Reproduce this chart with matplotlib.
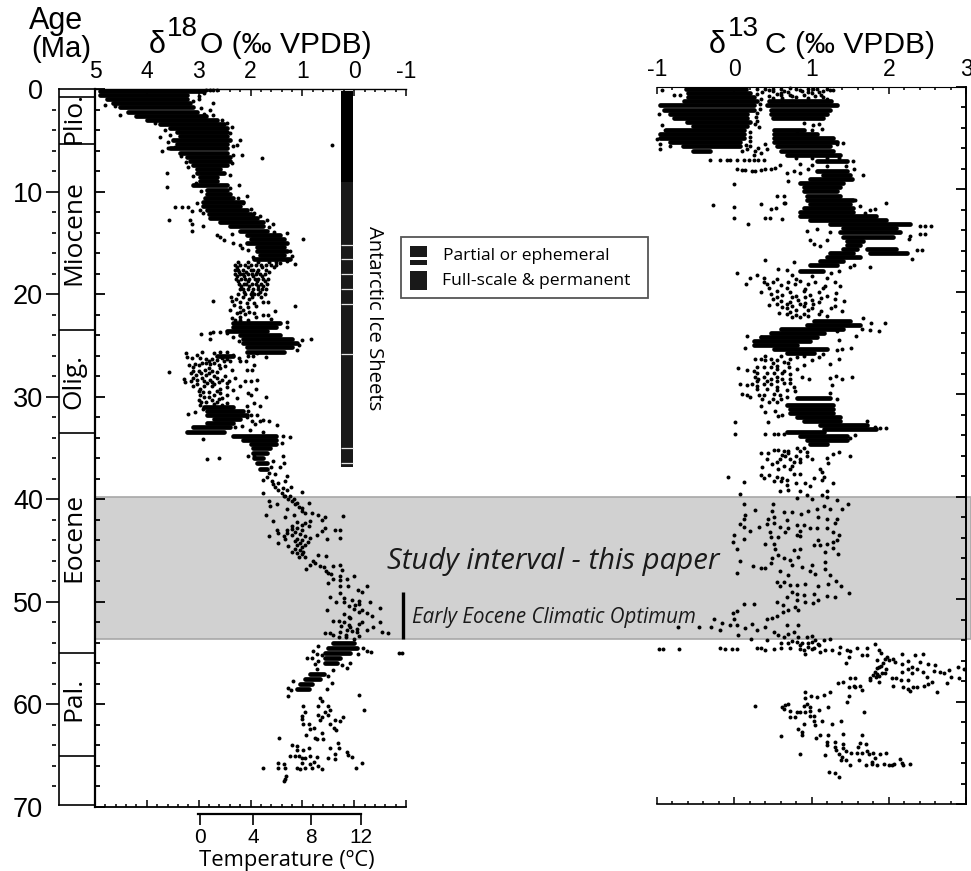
import matplotlib
matplotlib.use("Agg")
import matplotlib.pyplot as plt
from matplotlib.patches import Rectangle

W, H = 971, 871
SANS = "Liberation Sans"
SOFT = "Open Sans"

# age ticks and stage column
age_major = [0, 10, 20, 30, 40, 50, 60, 70]
age_minor = [2, 4, 6, 8, 12, 14, 16, 18, 22, 24, 26, 28, 32, 34, 36, 38, 42, 44, 46, 48, 52, 54, 56, 58, 62, 64, 66, 68]
stage_lines = [0.75, 5.4, 23.5, 33.5, 55, 65]
stage_names = ["Plio.", "Miocene", "Olig.", "Eocene", "Pal."]
stage_mids = [2.8, 14.0, 28.5, 43.7, 59.5]

# ice sheet bar
ice_black = [0.2, 9.1]
ice_grey = [9.1, 36.85]
ice_gaps = [15.2, 16.6, 18.0, 19.5, 21.0, 25.8, 35.0, 36.5]

study_band = [39.8, 53.6]
eeco_ages = [49.0, 53.6]

temp_labels = ["0", "4", "8", "12"]
temp_pos = [2.97, 1.95, 0.83, -0.135]

# solid parts of the d18O cloud: age, high value, low value
o_core_age = [0.2, 0.6, 1.0, 1.4, 1.8, 2.2, 2.6, 3.0, 3.4, 3.8, 4.2, 4.6, 5.0, 5.4, 5.8, 6.2, 6.6, 7.0, 7.4, 7.8, 8.2, 8.6, 9.0, 9.4, 9.8, 10.2, 10.6, 11.0, 11.4, 11.8, 12.2, 12.6, 13.0, 13.4, 13.8, 14.2, 14.6, 15.0, 15.4, 15.8, 16.2, 16.6,
              22.8, 23.2, 23.6, 24.0, 24.4, 24.8, 25.2, 25.6, 26.0,
              31.0, 31.4, 31.8, 32.2, 32.6, 33.0, 33.4, 33.8, 34.2, 34.6, 35.0, 35.5, 36.0, 36.5, 37.0,
              54.0, 54.5, 55.0, 55.5, 56.0, 57.0, 57.5, 58.0, 58.5]
o_core_hi = [4.9, 4.9, 4.77, 4.65, 4.52, 4.36, 4.2, 4.0, 3.75, 3.55, 3.42, 3.36, 3.49, 3.42, 3.55, 3.36, 3.23, 3.17, 3.1, 3.04, 3.04, 2.97, 2.97, 3.1, 2.84, 2.84, 2.88, 2.91, 2.91, 2.84, 2.81, 2.78, 2.59, 2.39, 2.2, 2.07, 2.0, 2.07, 1.88, 1.88, 1.81, 1.94,
             2.33, 2.33, 2.46, 2.2, 2.14, 2.14, 2.07, 2.07, 2.65,
             2.9, 2.84, 2.84, 2.71, 2.84, 3.1, 3.23, 2.33, 2.14, 2.0, 1.95, 1.95, 1.94, 1.88, 1.81,
             0.4, 0.5, 0.56, 0.56, 0.56, 0.85, 0.95, 1.04, 1.1]
o_core_lo = [2.9, 3.23, 3.23, 3.17, 3.1, 3.04, 2.85, 2.65, 2.52, 2.46, 2.46, 2.46, 2.4, 2.46, 2.46, 2.46, 2.4, 2.4, 2.46, 2.59, 2.52, 2.65, 2.65, 2.46, 2.46, 2.4, 2.33, 2.14, 2.2, 2.07, 2.0, 1.88, 1.75, 1.75, 1.69, 1.43, 1.36, 1.3, 1.36, 1.3, 1.36, 1.24,
             1.43, 1.5, 1.69, 1.43, 1.2, 1.1, 1.2, 1.36, 2.33,
             2.33, 2.14, 2.07, 2.2, 2.33, 2.4, 2.52, 1.5, 1.5, 1.5, 1.62, 1.69, 1.75, 1.69, 1.69,
             0.01, -0.05, 0.08, 0.27, 0.33, 0.59, 0.66, 0.82, 0.88]

# scattered d18O samples: (age, value)
o_points = [(0.1, 2.85), (0.1, 2.78), (0.1, 2.72), (0.1, 2.65), (0.4, 2.9), (0.7, 3.0), (1.0, 3.0), (1.4, 2.72), (2.0, 2.78), (2.5, 2.72), (1.56, 4.81), (1.7, 4.61), (2.5, 4.52), (3.34, 3.84), (4.7, 3.75), (6.0, 3.71), (5.8, 3.6), (8.2, 3.62), (9.6, 3.62), (11.5, 3.46), (11.5, 3.33), (11.5, 3.2), (11.9, 3.13), (12.8, 3.58), (12.8, 3.17), (13.2, 3.13), (13.8, 3.13), (11.1, 3.04), (11.8, 2.97), (12.1, 2.91), (13.4, 2.91), (14.2, 2.65), (14.4, 2.59), (14.7, 2.52), (15.0, 2.33), (15.5, 2.17),
            (4.3, 2.39), (5.0, 2.2), (5.5, 2.27), (5.6, 2.33), (6.4, 2.17), (6.4, 2.33), (6.75, 1.78), (5.45, 0.42), (7.2, 2.36), (8.4, 2.39), (9.35, 2.23), (10.4, 2.07), (11.1, 2.14), (12.1, 1.94), (12.4, 1.81), (12.8, 1.69), (13.2, 1.56), (14.0, 1.3), (14.6, 0.98), (15.8, 1.24), (17.1, 1.14), (16.3, 1.2), (16.8, 1.3), (17.0, 1.43),
            (17.2, 2.3), (17.2, 2.2), (17.2, 2.1), (17.2, 2.0), (17.2, 1.9), (17.2, 1.8), (17.2, 1.7), (17.2, 1.6), (17.2, 1.5), (17.6, 2.3), (17.6, 2.25), (17.6, 2.15), (17.6, 2.0), (17.6, 1.95), (17.6, 1.85), (17.6, 1.7),
            (18.0, 2.3), (18.0, 2.2), (18.0, 2.15), (18.0, 2.05), (18.0, 1.98), (18.0, 1.9), (18.0, 1.82), (18.0, 1.72), (18.5, 2.28), (18.5, 2.18), (18.5, 2.1), (18.5, 2.02), (18.5, 1.92), (18.5, 1.85), (18.5, 1.75), (18.5, 1.66),
            (19.0, 2.22), (19.0, 2.12), (19.0, 2.08), (19.0, 1.98), (19.0, 1.9), (19.0, 1.8), (19.0, 1.68), (19.5, 2.2), (19.5, 2.15), (19.5, 2.05), (19.5, 1.95), (19.5, 1.85), (19.5, 1.78), (19.5, 1.7), (20.0, 2.25), (20.0, 2.1), (20.0, 2.0), (20.0, 1.93), (20.0, 1.86), (20.0, 1.72),
            (20.7, 2.72), (20.7, 2.36), (20.8, 2.2), (20.9, 2.07), (20.9, 1.94), (20.8, 1.75), (20.8, 1.67), (21.2, 1.14), (21.5, 2.39), (21.85, 2.27), (21.5, 2.14), (21.85, 1.94), (22.0, 1.75), (21.6, 1.53), (22.0, 1.67), (22.3, 2.36), (22.5, 2.2), (22.5, 2.04), (22.75, 1.3), (23.2, 1.3), (21.3, 2.2), (21.3, 2.05), (21.2, 1.9), (21.9, 2.1),
            (23.9, 2.96), (23.8, 2.79), (24.4, 2.79), (23.65, 2.72), (23.65, 2.59), (23.8, 2.46), (24.2, 2.33), (24.6, 2.23), (24.45, 1.01), (24.4, 0.83), (25.0, 1.07), (25.4, 1.1), (26.1, 1.7), (25.75, 1.88), (26.0, 2.05), (26.0, 1.95),
            (25.75, 3.25), (26.1, 3.23), (25.6, 2.94), (25.9, 3.04), (26.2, 3.13), (26.2, 2.97), (25.7, 2.71), (25.6, 2.59), (25.65, 2.46), (25.9, 2.33), (26.2, 2.23), (26.55, 2.2), (26.55, 2.08), (27.4, 2.07), (26.9, 1.94), (27.4, 1.97),
            (26.9, 3.18), (26.8, 3.07), (26.7, 2.94), (26.55, 2.81), (26.4, 2.65), (26.55, 2.52), (26.55, 2.39), (27.6, 3.58), (28.25, 3.28), (28.6, 3.26), (27.5, 3.1), (27.5, 3.0), (27.4, 2.88), (27.5, 2.75), (27.2, 2.59), (27.0, 2.49), (27.4, 2.36), (26.9, 3.0), (26.7, 2.7),
            (28.2, 3.1), (28.35, 3.04), (28.2, 2.94), (27.7, 2.81), (28.35, 2.78), (28.2, 2.65), (28.35, 2.55), (28.5, 2.42), (28.2, 2.29), (28.5, 2.1), (28.5, 1.99), (28.4, 1.88),
            (28.8, 3.04), (29.2, 2.97), (28.7, 2.84), (28.8, 2.71), (29.2, 2.59), (28.7, 2.46), (29.3, 2.33), (29.0, 2.2), (29.6, 2.04), (29.2, 1.89), (29.8, 1.99), (30.1, 2.26), (30.0, 1.7), (30.6, 1.94), (30.95, 1.81), (30.95, 2.07),
            (29.8, 2.97), (29.5, 2.91), (29.5, 2.81), (29.8, 2.71), (29.65, 2.59), (29.8, 2.46), (30.3, 3.0), (30.8, 2.97), (30.5, 2.85), (30.3, 2.75), (30.2, 2.6),
            (31.65, 3.2), (31.5, 3.07), (31.2, 2.91), (31.4, 2.04), (31.75, 1.99), (31.95, 2.07), (31.75, 1.88), (32.25, 1.75), (32.7, 1.91), (32.4, 1.81), (32.4, 1.65), (32.8, 1.49), (32.4, 1.97), (32.9, 2.17), (33.2, 2.01), (33.4, 1.75), (33.0, 2.3),
            (34.1, 2.92), (36.1, 2.83), (36.0, 2.61), (33.95, 1.24), (33.8, 1.37), (34.5, 1.4), (35.8, 2.04), (35.8, 1.94), (35.8, 1.38), (36.3, 1.56), (36.5, 1.36), (36.9, 1.43), (37.5, 1.53), (37.7, 1.3), (38.25, 1.33), (38.8, 1.22), (36.9, 1.6), (37.4, 1.65),
            (37.8, 1.68), (38.2, 1.59), (38.1, 1.75), (38.5, 1.56), (38.4, 1.47), (38.8, 1.52), (39.1, 1.46), (39.1, 1.3), (39.4, 1.39), (39.7, 1.33), (40.0, 1.27), (40.2, 1.2), (40.5, 1.14), (40.8, 1.07), (41.1, 1.01), (38.9, 1.38),
            (39.4, 1.75), (39.3, 1.01), (40.2, 1.65), (40.7, 1.62), (40.5, 1.49), (41.5, 1.7), (42.1, 1.56), (42.95, 1.49), (43.3, 1.46), (43.6, 1.65), (43.6, 1.36), (43.9, 1.33), (44.3, 1.46), (44.6, 1.27), (45.1, 1.2), (45.2, 1.1), (45.6, 0.95), (45.6, 1.07), (46.8, 0.93), (46.4, 0.85), (46.2, 0.75), (46.5, 0.66), (46.65, 0.59), (47.2, 0.5), (46.5, 0.4), (46.4, 0.27), (46.9, 0.24), (48.2, 0.5), (47.8, 0.4), (47.5, 0.27), (47.8, 0.14), (47.5, 0.01), (48.5, 0.27), (49.1, 0.27), (48.5, 0.11), (48.8, -0.08), (48.5, -0.24), (49.0, -0.15), (49.5, 0.46),
            (39.7, 1.36), (39.7, 1.23), (40.0, 1.17), (40.4, 1.11), (40.85, 1.01), (40.4, 0.88), (41.3, 0.95), (41.3, 0.82), (41.5, 0.69), (41.75, 0.56), (41.6, 0.22), (42.95, 0.27), (43.0, 0.37), (43.8, 0.28), (42.8, 0.56), (43.1, 0.62), (43.9, 0.53), (43.45, 0.72), (42.0, 0.62), (42.15, 0.85), (42.65, 0.88), (41.5, 1.17), (40.9, 1.3), (41.7, 1.33),
            (42.2, 1.1), (42.6, 1.2), (42.8, 1.1), (43.0, 1.0), (43.2, 1.15), (43.4, 1.05), (43.6, 0.95), (43.8, 0.85), (44.0, 1.0), (44.2, 0.9), (44.5, 1.1), (44.8, 1.15), (44.9, 1.05), (45.1, 0.98), (44.5, 0.95), (42.9, 1.2), (43.5, 1.2), (42.5, 1.0), (42.3, 0.95), (43.9, 1.1), (45.3, 1.0), (45.4, 0.7), (45.5, 0.55),
            (50.8, 0.53), (51.9, 0.4), (51.9, 0.3), (52.0, 0.2), (51.6, 0.08), (52.5, 0.08), (50.3, -0.02), (50.8, -0.15), (51.1, -0.25), (51.4, -0.34), (50.6, -0.5), (52.0, -0.5), (52.5, -0.37), (52.7, -0.24), (53.0, -0.66), (52.9, -0.53), (52.0, -0.15), (53.0, 0.56), (53.0, 0.46), (52.9, 0.27), (52.7, 0.14), (52.9, -0.05), (53.6, 0.01), (50.0, 0.35), (50.0, 0.2), (50.4, 0.1), (49.8, 0.05), (49.9, -0.1), (52.3, 0.1), (52.6, -0.05), (52.2, -0.1), (53.2, 0.15), (53.4, 0.3), (53.3, -0.1), (51.0, -0.1), (51.5, 0.1), (50.0, -0.3),
            (55.5, 0.91), (55.5, 0.82), (55.1, 0.72), (54.3, 0.69), (54.8, -0.24), (54.9, -0.32), (54.5, -0.18), (55.1, -0.08), (55.0, -0.92), (55.0, -0.87), (55.95, 0.08), (56.4, 0.14), (56.2, 0.23), (56.6, 0.4), (57.2, 0.5), (57.9, 0.43), (58.5, 0.53), (54.8, 0.8), (55.2, 0.62), (56.1, 0.76), (56.5, 0.72), (55.8, 0.69),
            (58.4, 1.27), (59.2, 1.27), (57.7, 1.18), (58.6, 1.22), (59.1, -0.1), (60.5, -0.19), (60.2, 0.98), (60.7, 0.95), (61.1, 1.01), (61.45, 1.01), (61.95, 0.98), (61.95, 0.88), (59.4, 0.66), (59.7, 0.62), (60.2, 0.69), (60.2, 0.5), (60.5, 0.46), (60.7, 0.56), (61.0, 0.69), (61.2, 0.62), (61.0, 0.5), (61.5, 0.66), (61.5, 0.37), (61.2, 0.22), (61.6, 0.27), (61.9, 0.46), (62.3, 0.38), (62.5, 0.35), (62.8, 0.62), (62.3, 0.77), (62.35, 0.85), (63.0, 0.93), (63.3, 0.75), (63.4, 0.72), (63.4, 0.6), (63.25, 1.45),
            (63.95, 1.2), (64.05, 1.11), (63.75, 0.32), (64.2, 0.3), (64.2, 0.46), (64.2, 0.88), (64.4, 0.98), (64.45, 1.1), (64.6, 0.14), (64.9, 0.11), (65.1, 0.05), (64.8, 0.37), (65.3, 0.37), (65.2, 0.5), (65.0, 1.23), (65.0, 1.14), (65.0, 1.07), (65.2, 1.01), (65.2, 0.95), (65.0, 0.85), (65.1, 0.72), (65.7, 1.01), (65.6, 0.78), (65.8, 0.85), (65.7, 1.46), (65.8, 1.36), (66.2, 1.46), (66.2, 1.33), (66.2, 1.75), (66.2, 1.11), (66.3, 1.04), (66.2, 0.82), (66.2, 0.95), (66.0, 0.69), (66.3, 0.62), (66.2, -0.04), (65.75, -0.15), (67.0, 1.31), (67.3, 1.33), (67.5, 1.36),
            # second pass over the sparse stretches
            (1.2, 3.1), (1.9, 2.95), (2.4, 2.9), (3.0, 2.55), (3.3, 2.45), (3.7, 2.35), (4.0, 3.65), (4.5, 3.55), (5.2, 3.6), (5.7, 3.45), (6.5, 3.35), (7.1, 3.25), (7.6, 3.2), (8.5, 3.1), (9.2, 3.05), (9.9, 2.95), (9.7, 2.4), (10.6, 2.25), (11.7, 2.0), (12.3, 1.95), (13.5, 1.65), (13.9, 1.55), (14.1, 2.35), (15.2, 2.2), (15.7, 2.05), (16.4, 1.95), (16.9, 2.25), (16.9, 2.05), (16.9, 1.85), (16.9, 1.65), (16.9, 1.5),
            (17.4, 2.26), (17.4, 2.05), (17.4, 1.77), (17.4, 1.55), (17.8, 2.22), (17.8, 2.08), (17.8, 1.88), (17.8, 1.65), (18.25, 2.26), (18.25, 2.12), (18.25, 1.95), (18.25, 1.78), (18.75, 2.25), (18.75, 2.05), (18.75, 1.88), (18.75, 1.72), (19.25, 2.18), (19.25, 2.02), (19.25, 1.85), (19.25, 1.75), (19.75, 2.12), (19.75, 1.98), (19.75, 1.82), (20.3, 2.38), (20.3, 2.15), (20.3, 1.97), (20.3, 1.8), (20.5, 2.28), (20.5, 2.02), (21.1, 2.32), (21.7, 2.2), (21.7, 2.02), (22.2, 2.2), (22.2, 1.9), (22.4, 1.6), (22.5, 2.3),
            (26.3, 2.85), (26.3, 2.75), (26.25, 2.55), (26.3, 2.45), (26.8, 2.78), (26.9, 2.6), (26.7, 2.85), (27.1, 3.1), (27.2, 2.8), (27.7, 3.15), (27.7, 2.95), (27.6, 2.65), (27.9, 3.05), (27.9, 2.85), (28.0, 2.7), (28.0, 2.5), (28.5, 3.15), (28.5, 2.9), (28.6, 2.75), (28.6, 2.6), (29.0, 3.1), (29.0, 2.9), (29.0, 2.75), (29.1, 2.45), (29.4, 3.0), (29.4, 2.65), (30.0, 2.9), (30.0, 2.8), (30.1, 2.55), (30.5, 2.95), (30.5, 2.65), (30.6, 2.45), (30.7, 2.7), (30.8, 2.55),
            (43.0, 1.3), (44.1, 1.15), (44.3, 1.05), (43.3, 1.3), (44.7, 1.0), (46.0, 0.8), (47.0, 0.55), (47.3, 0.45), (47.9, 0.28), (49.6, 0.2), (50.2, -0.1), (50.7, 0.0), (51.2, 0.2), (52.4, 0.25), (52.8, 0.05), (53.2, 0.4), (53.4, 0.15)]

# solid parts of the d13C cloud: age, low value, high value
c_core_age = [0.2, 0.6, 1.0, 1.4, 1.4, 1.8, 1.8, 2.2, 2.2, 2.6, 2.6, 3.0, 3.0, 3.4, 3.8, 4.2, 4.2, 4.6, 4.6, 5.0, 5.0, 5.4, 5.4, 5.8, 5.8, 6.2, 6.2, 6.6, 7.2,
              8.2, 8.6, 9.0, 9.4, 9.8, 10.2, 10.6, 11.0, 11.4, 11.8, 12.2, 12.6, 13.0, 13.4, 13.8, 14.2, 14.6, 15.0, 15.4, 15.8, 15.8, 16.2, 16.2, 16.6, 17.0, 17.4, 18.0,
              22.8, 23.2, 23.6, 24.0, 24.4, 24.8, 25.2, 25.6, 26.0,
              30.4, 31.0, 31.4, 31.8, 32.2, 32.6, 33.0, 33.4, 33.7, 34.1, 34.5, 34.9]
c_core_lo = [-0.62, -0.6, -0.6, -0.65, 0.45, -0.96, 0.42, -0.91, 0.47, -0.83, 0.47, -0.78, 0.5, -0.61, -0.53, -0.88, 0.51, -0.96, 0.51, -0.96, 0.51, -0.83, 0.51, -0.66, 0.55, -0.53, 0.6, 0.68, 1.07,
             1.07, 1.15, 0.98, 0.85, 0.9, 0.9, 0.94, 0.94, 0.98, 0.9, 0.85, 0.85, 0.98, 1.24, 1.41, 1.37, 1.41, 1.46, 1.46, 1.41, 1.72, 1.24, 1.76, 1.2, 1.11, 0.98, 0.85,
             1.03, 0.94, 0.6, 0.47, 0.34, 0.25, 0.25, 0.51, 0.68,
             0.81, 0.68, 0.72, 0.72, 0.81, 0.9, 1.11, 1.16, 0.68, 0.85, 0.94, 0.98]
c_core_hi = [0.15, 0.2, 0.25, 0.3, 1.25, 0.25, 1.33, 0.25, 1.24, 0.16, 1.2, 0.16, 1.15, 0.21, 0.16, 0.12, 0.9, 0.12, 1.07, 0.12, 1.28, 0.08, 1.33, 0.08, 1.24, -0.31, 1.28, 1.37, 1.46,
             1.46, 1.5, 1.52, 1.41, 1.37, 1.33, 1.37, 1.54, 1.5, 1.54, 1.54, 1.84, 1.97, 2.28, 2.1, 2.15, 2.06, 1.67, 1.63, 1.59, 2.1, 1.54, 2.23, 1.63, 1.41, 1.33, 1.15,
             1.5, 1.63, 1.41, 1.16, 1.07, 0.98, 0.81, 1.2, 1.03,
             1.24, 1.28, 1.28, 1.28, 1.37, 1.37, 1.72, 1.84, 1.16, 1.46, 1.46, 1.2]

# scattered d13C samples: (age, value)
c_points = [(0.3, -0.93), (0.8, -0.78), (0.8, -0.7), (2.6, -0.97), (3.7, -0.94), (4.2, -0.89), (5.07, -1.0), (5.6, -0.96), (6.1, -0.96), (5.8, -0.83), (7.1, -0.31), (7.1, -0.18), (7.1, -0.09), (7.1, -0.05), (7.15, 0.03), (7.1, 0.12), (7.1, 0.19), (7.15, 0.25), (7.1, 0.31), (7.1, 0.38),
            (8.05, 0.03), (8.1, 0.1), (8.1, 0.14), (8.2, 0.23), (8.2, 0.27), (8.1, 0.34), (8.05, 0.4), (8.05, 0.47), (7.9, 0.53), (7.6, 0.59), (6.1, 0.16), (5.8, 0.21), (6.25, 0.27), (5.95, 0.31), (6.4, 0.34), (5.6, 0.4), (6.1, 0.42), (6.6, 0.25), (6.25, 0.1),
            (9.5, 0.0), (11.5, -0.28), (11.7, 0.0), (12.8, 0.0), (11.4, 0.34), (12.8, 0.4), (12.8, 0.46), (13.4, 0.18), (11.9, 0.47), (11.8, 0.54), (10.65, 0.55), (11.3, 0.64), (12.9, 0.62), (8.6, 1.67), (7.2, 1.54), (5.45, 1.41), (5.6, 1.33), (4.1, 1.13), (4.2, 1.0), (4.3, 0.81), (0.26, 1.28), (0.26, 1.24), (0.2, 1.2), (0.2, 1.07),
            (0.2, 0.4), (0.4, 0.5), (0.2, 0.6), (0.5, 0.7), (0.2, 0.8), (0.4, 0.88), (0.2, 0.95), (0.6, 1.0), (0.8, 0.6), (1.0, 0.8), (0.9, 0.45), (1.1, 0.95), (0.7, 0.3), (0.5, 1.1),
            (8.4, 0.68), (8.2, 0.77), (8.4, 0.85), (9.2, 0.7), (10.65, 0.64), (11.3, 0.66), (11.3, 1.96), (11.9, 1.82), (12.05, 1.76), (12.3, 1.69), (11.6, 1.63), (11.0, 1.56), (13.6, 2.41), (13.6, 2.47), (13.6, 2.55), (14.4, 2.41), (14.4, 2.47), (15.9, 2.36), (15.9, 2.43), (16.75, 2.3), (17.6, 1.76), (14.5, 2.28), (14.85, 2.26),
            (13.9, 1.07), (14.05, 0.94), (14.9, 0.98), (15.35, 1.03), (15.5, 1.11), (14.9, 1.2), (14.2, 1.24), (16.9, 0.4), (17.8, 0.57), (17.1, 0.77), (17.9, 0.68), (18.2, 0.04), (19.25, 0.15), (18.6, 0.21), (18.4, 0.29), (18.6, 0.38), (18.4, 0.75), (18.0, 1.35), (18.2, 1.25), (17.6, 1.5), (17.4, 1.55),
            (19.0, 0.38), (19.2, 0.43), (19.0, 0.5), (19.3, 0.6), (19.0, 0.7), (19.2, 0.78), (18.9, 0.85), (19.2, 0.95), (19.0, 1.05), (19.4, 1.17), (19.0, 1.3), (19.4, 1.37), (20.0, 0.35), (20.2, 0.47), (19.9, 0.55), (20.3, 0.62), (20.0, 0.72), (20.4, 0.8), (19.9, 0.9), (20.3, 0.98), (20.0, 1.1), (20.4, 1.2), (20.1, 1.32),
            (20.7, 0.5), (20.9, 0.6), (21.0, 0.72), (20.8, 0.82), (21.1, 0.92), (20.8, 1.0), (21.0, 1.1), (20.7, 1.3), (20.9, 1.42), (21.3, 0.45), (21.5, 0.62), (21.6, 0.68), (21.4, 0.75), (21.8, 0.8), (21.4, 0.9), (21.6, 1.0), (21.9, 1.12), (21.6, 1.25), (21.4, 1.3), (22.1, 0.58), (22.0, 0.72), (22.3, 0.8), (22.2, 0.9), (22.4, 0.95), (21.9, 1.4),
            (27.4, 0.05), (27.6, 0.16), (27.7, 0.25), (26.55, 0.34), (26.6, 0.27), (26.7, 0.4), (26.55, 0.47), (26.7, 0.55), (26.8, 0.64), (26.55, 0.72), (26.4, 0.81), (26.25, 0.9), (26.7, 1.0), (26.4, 1.1), (26.05, 1.15), (27.0, 1.24), (26.55, 1.35), (25.7, 1.33), (25.6, 1.4), (25.5, 1.51), (24.3, 0.16), (25.5, 0.14), (24.45, 0.34), (23.0, 1.77), (23.8, 1.87), (23.05, 1.95), (22.6, 1.67), (23.6, 1.65), (23.7, 1.76), (24.3, 1.58), (24.7, 1.35), (23.8, 1.33),
            (27.35, 0.29), (27.35, 0.38), (27.35, 0.47), (27.5, 0.55), (27.7, 0.64), (27.35, 0.71), (27.5, 0.81), (28.35, 0.27), (28.5, 0.31), (28.35, 0.38), (28.5, 0.47), (28.35, 0.55), (28.5, 0.62), (28.5, 0.72), (28.35, 0.88), (28.5, 0.97), (28.4, 1.24), (28.2, 1.32), (28.5, 1.39), (28.35, 1.53),
            (29.0, 0.08), (29.1, 0.16), (29.0, 0.23), (29.15, 0.29), (29.0, 0.38), (29.0, 0.47), (29.3, 0.55), (28.85, 0.64), (29.3, 0.77), (29.1, 1.26), (30.0, 0.1), (30.1, 0.16), (30.3, 0.21), (30.1, 0.32), (30.1, 0.38), (30.0, 0.51), (30.1, 0.59), (30.3, 0.68), (29.65, 0.79), (29.9, 1.24), (30.45, 1.33),
            (31.15, 0.34), (31.7, 0.4), (31.6, 0.53), (32.0, 0.62), (32.1, 0.57), (32.7, 0.44), (32.7, 0.01), (33.9, 0.01), (33.9, 0.4), (33.85, 0.51), (33.9, 0.57), (33.9, 0.64), (34.0, 1.56), (34.3, 1.5), (32.65, 1.72), (33.3, 1.97), (33.3, 1.89), (33.2, 1.82),
            (35.75, 0.34), (35.75, 0.44), (35.4, 0.51), (35.4, 0.56), (35.5, 0.64), (35.5, 0.7), (35.2, 0.81), (35.2, 0.9), (35.65, 0.94), (36.0, 0.94), (36.3, 1.0), (36.2, 1.2), (36.7, 1.21), (35.8, 1.28), (35.65, 1.35), (36.0, 1.5), (36.3, 0.42), (36.8, 0.49), (36.6, 0.55), (36.3, 0.59), (36.0, 0.66), (36.3, 0.72), (36.6, 0.77), (36.6, 0.85),
            (37.1, 0.36), (37.9, 0.45), (37.3, 0.57), (37.3, 0.72), (37.8, 0.77), (37.8, 0.85), (37.9, 0.35), (38.15, 0.39), (38.1, -0.08), (38.6, 0.13), (38.1, 0.55), (38.2, 0.62), (38.4, 0.68), (38.5, 0.51), (38.2, 1.03), (37.3, 1.11), (37.6, 1.14), (38.1, 1.16), (38.4, 1.14), (38.7, 1.28),
            (39.7, 0.07), (39.4, 0.59), (38.9, 0.68), (39.3, 0.7), (38.7, 0.8), (39.4, 0.85), (38.7, 0.92), (39.0, 0.98), (39.4, 1.2), (40.1, 0.81),
            (39.8, 0.94), (40.2, 1.0), (39.8, 1.13), (40.0, 1.2), (40.35, 1.33), (40.7, 1.47), (40.7, 0.13), (40.7, 0.5), (41.3, 0.27), (41.4, 0.49), (41.5, 0.64), (41.5, 0.75), (41.65, 0.87), (41.35, 0.96), (41.2, 1.07), (40.9, 1.16), (41.2, 1.24), (41.2, 1.39),
            (41.8, 0.14), (42.15, 0.13), (42.0, 0.51), (42.15, 0.44), (42.0, 1.09), (42.2, 1.2), (42.2, 1.33), (42.3, 0.68), (42.7, 0.08), (43.0, 0.12), (43.3, 0.21), (43.0, 0.32), (42.7, 0.42), (42.55, 0.51), (43.0, 0.59), (43.1, 0.7), (43.45, 0.66), (42.8, 0.81), (43.3, 0.85), (42.8, 0.9), (43.1, 0.98), (43.1, 1.07), (43.1, 1.2), (42.6, 1.31), (43.45, 1.28), (43.7, 1.35),
            (43.7, 0.0), (44.4, -0.01), (44.1, 0.13), (45.1, 0.04), (43.45, 0.46), (43.9, 0.47), (43.9, 0.57), (44.6, 0.4), (44.6, 0.51), (45.1, 0.53), (45.25, 0.77), (45.1, 0.85), (43.75, 0.81), (43.8, 0.85), (44.7, 1.03), (44.2, 1.09), (44.75, 1.11), (44.6, 1.2), (44.4, 1.28), (45.4, 1.18), (45.0, 1.28), (45.6, 1.34), (44.25, 1.33),
            (45.7, 0.56), (46.0, 0.49), (46.0, 0.64), (46.2, 0.72), (45.9, 0.83), (46.3, 0.08), (46.75, 0.24), (47.0, 0.34), (46.95, 0.4), (46.5, 0.47), (47.4, 0.03), (47.3, 0.59), (47.65, 0.7), (46.7, 0.75), (46.85, 0.88), (46.35, 1.18), (47.1, 1.18), (46.7, 1.0), (47.3, 0.98), (47.5, 1.05), (47.6, 1.24),
            (48.3, 0.64), (48.3, 0.55), (48.75, 0.59), (48.6, 0.72), (48.6, 0.81), (48.5, 0.92), (48.75, 1.09), (48.5, 1.22), (48.2, 1.32), (48.7, 1.38), (49.4, 1.48), (49.8, 0.68), (49.35, 0.75), (49.45, 0.81), (49.6, 0.9), (49.45, 1.03), (49.7, 1.2), (49.8, 1.3),
            (50.45, 0.13), (50.45, 0.26), (50.3, 0.55), (50.6, 0.63), (50.1, 0.81), (50.3, 0.92), (50.35, 1.02), (50.1, 1.09), (52.7, -0.73), (52.7, -0.45), (52.7, -0.3), (51.95, -0.26), (52.3, -0.16), (53.0, -0.19), (52.5, -0.05), (51.4, -0.01), (51.2, 0.03), (51.9, 0.0), (52.5, 0.04), (53.5, 0.05), (52.8, 0.14), (52.4, 0.23), (53.0, 0.29), (52.7, 0.4), (53.85, 0.22),
            (51.9, 0.42), (51.8, 0.49), (51.6, 0.55), (51.3, 0.63), (51.1, 0.7), (50.8, 0.79), (51.1, 0.83), (52.5, 0.68), (52.5, 0.83), (53.2, 0.51), (53.5, 0.57), (53.7, 0.64), (53.2, 0.77), (54.0, 0.42), (54.3, 0.6), (53.7, 0.94), (53.55, 1.0), (54.0, 1.16), (53.9, 1.24), (53.4, 0.7), (53.7, 0.82), (54.1, 0.75), (54.3, 0.7), (54.5, 0.85), (54.3, 0.95), (54.0, 1.05), (54.5, 1.1), (54.3, 0.88), (54.2, 1.0), (54.7, 0.95),
            (54.9, -0.98), (54.9, -0.92), (54.9, -0.71), (54.8, -0.18), (54.9, -0.12), (54.9, -0.03), (54.9, 0.04), (54.8, 0.29), (54.8, 0.34), (55.0, 0.4), (54.9, 0.52), (54.75, 0.6), (54.8, 0.72), (54.2, 0.81), (54.9, 0.85), (55.0, 0.9), (55.4, 0.92), (54.9, 1.0), (54.75, 1.03), (54.4, 1.08), (55.2, 1.11), (55.0, 1.18), (55.0, 1.26), (54.65, 1.37), (55.3, 1.35), (55.0, 1.46), (55.1, 1.5), (55.6, 1.48), (56.2, 1.45), (54.75, 1.59), (54.75, 1.72), (55.5, 1.65), (55.5, 1.72), (54.4, 1.82), (55.0, 1.87), (55.3, 1.9), (55.9, 1.85), (55.8, 1.95), (55.8, 2.06), (56.1, 2.08), (55.4, 2.17), (55.5, 2.34), (55.4, 2.44), (56.1, 2.4), (56.0, 2.25), (56.35, 2.51), (56.4, 2.6), (56.3, 2.17), (55.9, 2.0), (55.6, 1.98), (56.2, 1.93), (56.5, 1.9), (56.7, 1.85),
            (57.1, 1.82), (57.25, 1.91), (56.6, 1.87), (56.8, 1.96), (57.7, 2.1), (57.15, 2.17), (56.6, 2.3), (56.8, 2.25), (56.8, 2.37), (57.25, 2.3), (57.15, 2.44), (57.6, 2.49), (57.0, 2.59), (57.15, 2.66), (57.25, 2.72), (56.9, 2.78), (56.6, 2.89), (56.8, 2.97), (57.6, 2.81), (57.7, 2.91), (58.2, 2.75), (59.1, 2.63), (58.1, 2.56), (58.3, 2.51), (58.45, 2.45), (58.6, 2.37), (58.55, 2.31), (59.0, 2.28), (58.8, 2.25), (58.6, 2.18), (57.9, 2.25), (57.85, 2.16), (57.7, 2.04), (58.45, 2.05), (57.3, 1.85), (57.5, 1.88), (57.4, 1.8), (57.2, 1.95), (57.6, 1.83),
            (57.9, 1.76), (58.05, 1.87), (57.7, 1.76), (57.7, 1.56), (57.7, 1.5), (58.05, 1.41), (58.2, 1.34), (58.55, 1.48), (58.6, 1.56), (58.85, 1.65), (58.45, 1.63), (58.5, 1.55), (59.1, 1.24), (59.4, 1.16), (59.55, 1.07), (59.5, 0.99), (59.1, 0.92), (59.7, 0.92), (59.5, 1.49), (60.0, 1.46), (60.2, 0.94), (60.4, 0.9), (60.5, 0.98), (60.2, 0.7), (60.3, 0.66), (60.55, 0.62), (60.7, 0.65), (60.4, 0.27), (60.55, 1.21), (60.8, 1.1), (60.95, 0.98), (60.95, 0.72), (61.0, 0.81), (61.0, 0.85), (61.55, 0.79), (61.0, 0.91), (61.4, 0.98), (61.4, 1.03), (61.0, 1.68), (61.55, 0.72),
            (62.2, 0.9), (61.9, 1.03), (62.3, 1.05), (61.85, 1.14), (62.2, 1.26), (61.9, 1.38), (62.65, 0.82), (63.0, 0.88), (63.3, 0.88), (63.4, 0.61), (63.6, 1.06), (63.3, 1.11), (63.3, 1.21), (63.2, 1.41), (63.25, 1.65),
            (64.05, 1.63), (64.15, 1.7), (64.4, 1.6), (63.95, 1.2), (64.2, 1.2), (63.9, 1.31), (64.4, 1.31), (64.15, 1.41), (64.55, 1.41), (64.8, 1.45), (64.7, 1.32), (65.1, 1.35), (65.4, 1.39), (65.1, 0.85), (65.2, 1.18), (65.05, 1.51), (65.0, 1.59), (65.0, 1.65), (64.85, 1.72), (65.15, 1.75), (65.0, 1.79), (65.1, 1.89), (65.0, 1.97), (65.5, 1.82), (65.9, 1.78), (65.75, 1.38), (65.7, 1.45), (66.2, 1.5), (65.7, 1.62), (66.2, 1.7), (66.1, 1.78), (66.2, 1.85), (66.1, 1.94), (66.2, 2.0), (66.15, 2.04), (66.1, 2.07), (65.65, 2.14), (66.0, 2.17), (66.15, 2.18), (66.1, 2.27), (66.85, 1.23), (67.0, 1.3), (67.4, 1.36),
            # second pass over the sparse stretches
            (0.15, 0.3), (0.5, 0.36), (0.3, 0.45), (0.7, 0.55), (0.35, 0.65), (0.1, 0.72), (0.8, 0.72), (0.3, 0.85), (0.75, 0.9), (0.5, 0.95), (0.9, 1.05), (0.15, 1.02), (0.35, 1.15), (0.8, 1.12), (1.05, 0.5), (1.1, 0.62), (1.15, 0.35), (1.2, 1.2), (0.9, 0.75), (0.55, 0.6), (0.15, 0.5), (1.0, 1.15),
            (1.7, 0.33), (2.1, 0.33), (2.5, 0.3), (2.9, 0.28), (3.3, 0.3), (3.6, 0.27), (3.9, 0.32), (4.4, 0.2), (4.9, 0.2), (5.3, 0.2), (5.7, 0.15), (3.6, 1.1), (3.7, 1.02), (3.5, 0.9), (6.9, 0.8), (6.9, 1.0), (6.9, 1.2), (6.9, 1.35), (7.5, 0.85), (7.6, 1.0), (7.7, 1.2), (7.7, 1.45), (8.0, 0.95), (8.0, 1.55),
            (18.7, 0.55), (18.7, 0.8), (18.5, 1.0), (18.6, 1.2), (19.6, 0.45), (19.6, 0.68), (19.7, 0.92), (19.6, 1.15), (20.5, 0.55), (20.5, 0.75), (20.5, 0.92), (20.6, 1.12), (21.2, 0.55), (21.2, 0.68), (21.2, 0.85), (21.2, 1.02), (21.8, 0.95), (22.2, 0.68), (22.2, 1.1), (22.5, 0.75), (22.5, 0.85), (22.4, 1.2),
            (26.3, 0.4), (26.9, 0.5), (26.9, 0.7), (26.3, 0.6), (27.1, 0.9), (27.2, 0.55), (27.9, 0.3), (27.9, 0.42), (27.9, 0.52), (27.9, 0.62), (28.0, 0.72), (28.7, 0.3), (28.7, 0.42), (28.7, 0.55), (28.9, 0.72), (29.5, 0.3), (29.5, 0.42), (29.6, 0.55), (29.6, 0.68), (30.5, 0.36), (30.5, 0.5), (30.5, 0.6), (30.8, 0.55), (30.8, 0.45),
            (35.7, 0.7), (36.0, 0.8), (35.9, 0.62), (36.3, 0.85), (37.0, 0.75), (37.0, 0.65), (35.5, 0.85), (38.5, 0.6)]


def px_text(x, y, s, **kw):
    kw.setdefault("family", SANS)
    kw.setdefault("ha", "center")
    kw.setdefault("va", "center")
    kw.setdefault("color", "black")
    return fig.text(x / W, 1 - y / H, s, **kw)


def axes_at(x0, y0, x1, y1):
    return fig.add_axes([x0 / W, 1 - y1 / H, (x1 - x0) / W, (y1 - y0) / H])


def style_axis(ax, xticks, xminor, labels):
    ax.patch.set_alpha(0)
    ax.set_xticks(xticks)
    ax.set_xticklabels(labels, family=SANS, fontsize=16.5)
    ax.set_xticks(xminor, minor=True)
    ax.set_yticks(age_major)
    ax.set_yticks(age_minor, minor=True)
    ax.tick_params(axis="x", which="both", direction="in", top=True, bottom=True, labeltop=True, labelbottom=False, width=1.1)
    ax.tick_params(axis="x", which="major", length=5, pad=4)
    ax.tick_params(axis="x", which="minor", length=2.4)
    ax.tick_params(axis="y", which="major", direction="in", length=7.2, width=1.3)
    ax.tick_params(axis="y", which="minor", direction="in", length=3.6, width=1.3)


fig = plt.figure(figsize=(W / 100, H / 100), dpi=100)

# left panel: d18O
ax = axes_at(95, 89, 406, 807)
ax.set_xlim(5, -1)
ax.set_ylim(70, 0)
style_axis(ax, [5, 4, 3, 2, 1, 0, -1], [4.8, 4.6, 4.4, 4.2, 3.8, 3.6, 3.4, 3.2, 2.8, 2.6, 2.4, 2.2, 1.8, 1.6, 1.4, 1.2, 0.8, 0.6, 0.4, 0.2, -0.2, -0.4, -0.6, -0.8],
           ["5", "4", "3", "2", "1", "0", "-1"])
ax.set_yticklabels([str(a) for a in age_major], family=SANS, fontsize=19.5)
ax.tick_params(axis="y", which="major", pad=37.5)
ax.spines["right"].set_visible(False)
ax.spines["left"].set_linewidth(1.6)
ax.spines["top"].set_linewidth(1.0)
ax.spines["bottom"].set_linewidth(1.3)

# study interval band runs across both panels
ax.axhspan(study_band[0], study_band[1], xmin=0, xmax=(W - 95) / 311, facecolor="#d1d1d1", edgecolor="#a8a8a8", linewidth=1.2, clip_on=False, zorder=0)

yt = ax.get_yaxis_transform()
col_left = (59 - 95) / 311
ax.plot([col_left, 0], [0, 0], transform=yt, color="black", lw=1.2, clip_on=False)
ax.plot([col_left, 0], [69.85, 69.85], transform=yt, color="black", lw=1.2, clip_on=False)
ax.plot([col_left, col_left], [0, 69.85], transform=yt, color="black", lw=1.2, clip_on=False)
ax.hlines(stage_lines, col_left, 0, transform=yt, color="black", lw=1.2, clip_on=False)
ax.hlines(age_major[1:-1], (46 - 95) / 311, col_left, transform=yt, color="black", lw=1.2, clip_on=False)
ax.hlines(age_minor, (52 - 95) / 311, (56 - 95) / 311, transform=yt, color="black", lw=1.2, clip_on=False)
for name, mid in zip(stage_names, stage_mids):
    ax.text((74 - 95) / 311, mid, name, transform=yt, rotation=90, ha="center", va="center", family=SOFT, fontsize=19, clip_on=False)

ax.hlines(o_core_age, o_core_hi, o_core_lo, color="black", lw=3.4, capstyle="round", zorder=3)
ax.scatter([p[1] for p in o_points], [p[0] for p in o_points], s=8, color="black", linewidths=0, zorder=3, clip_on=False)

# ice sheet bar
ax.bar(0.14, ice_black[1] - ice_black[0], width=0.225, bottom=ice_black[0], color="black", zorder=2)
ax.bar(0.14, ice_grey[1] - ice_grey[0], width=0.225, bottom=ice_grey[0], color="#191919", zorder=2)
ax.hlines(ice_gaps, 0.253, 0.027, color="#e4e4e4", lw=0.9, zorder=2.5)
ax.text(-0.39, 22.3, "Antarctic Ice Sheets", rotation=270, ha="center", va="center", family=SOFT, fontsize=14.6)

ax.vlines(-0.946, eeco_ages[0], eeco_ages[1], color="black", lw=2.4, zorder=4)

# temperature scale below the axis
xt = ax.get_xaxis_transform()
ax.plot([temp_pos[0] + 0.04, temp_pos[-1]], [-0.01, -0.01], transform=xt, color="black", lw=1.6, clip_on=False)
ax.vlines(temp_pos, -0.025, -0.01, transform=xt, color="black", lw=1.2, clip_on=False)
for pos, lab in zip(temp_pos, temp_labels):
    ax.text(pos, -0.0425, lab, transform=xt, ha="center", va="center", family=SANS, fontsize=15, clip_on=False)

# right panel: d13C
ax2 = axes_at(657, 87, 966, 804)
ax2.set_xlim(-1, 3)
ax2.set_ylim(70, 0)
style_axis(ax2, [-1, 0, 1, 2, 3], [-0.8, -0.6, -0.4, -0.2, 0.2, 0.4, 0.6, 0.8, 1.2, 1.4, 1.6, 1.8, 2.2, 2.4, 2.6, 2.8],
           ["-1", "0", "1", "2", "3"])
ax2.tick_params(axis="y", which="both", left=False, right=True, labelleft=False)
ax2.spines["left"].set_visible(False)
ax2.spines["right"].set_linewidth(1.4)
ax2.spines["bottom"].set_linewidth(1.2)
ax2.hlines(c_core_age, c_core_lo, c_core_hi, color="black", lw=3.4, capstyle="round", zorder=3)
ax2.scatter([p[1] for p in c_points], [p[0] for p in c_points], s=8, color="black", linewidths=0, zorder=3, clip_on=False)

# legend box, drawn in figure pixels
fig.add_artist(Rectangle((401 / W, 1 - 298 / H), 247 / W, 61 / H, transform=fig.transFigure, facecolor="white", edgecolor="#555555", lw=1.3))
fig.add_artist(Rectangle((410 / W, 1 - 257 / H), 17 / W, 11 / H, transform=fig.transFigure, facecolor="#191919", edgecolor="none"))
fig.add_artist(Rectangle((410 / W, 1 - 265 / H), 17 / W, 5 / H, transform=fig.transFigure, facecolor="#191919", edgecolor="none"))
fig.add_artist(Rectangle((410 / W, 1 - 290 / H), 17 / W, 19 / H, transform=fig.transFigure, facecolor="#191919", edgecolor="none"))
px_text(443, 256, "Partial or ephemeral", ha="left", family=SOFT, fontsize=12.5)
px_text(442, 281, "Full-scale & permanent", ha="left", family=SOFT, fontsize=12.6)

px_text(553, 562, "Study interval - this paper", family=SOFT, style="italic", fontsize=21.2, color="#1a1a1a")
px_text(412, 617, "Early Eocene Climatic Optimum", ha="left", family=SOFT, style="italic", fontsize=14.8, color="#1a1a1a")
px_text(287, 860, "Temperature (ºC)", family=SOFT, fontsize=15.8)

# titles
px_text(56, 21, "Age", fontsize=22)
px_text(61, 49, "(Ma)", fontsize=21)
px_text(149, 53, "δ", ha="left", va="baseline", fontsize=22)
px_text(167, 36, "18", ha="left", va="baseline", fontsize=20)
px_text(200, 53, "O (‰ VPDB)", ha="left", va="baseline", fontsize=21.6)
px_text(709, 53, "δ", ha="left", va="baseline", fontsize=22)
px_text(728, 36, "13", ha="left", va="baseline", fontsize=20)
px_text(765, 53, "C (‰ VPDB)", ha="left", va="baseline", fontsize=21.6)

fig.savefig("out.png", dpi=100)
